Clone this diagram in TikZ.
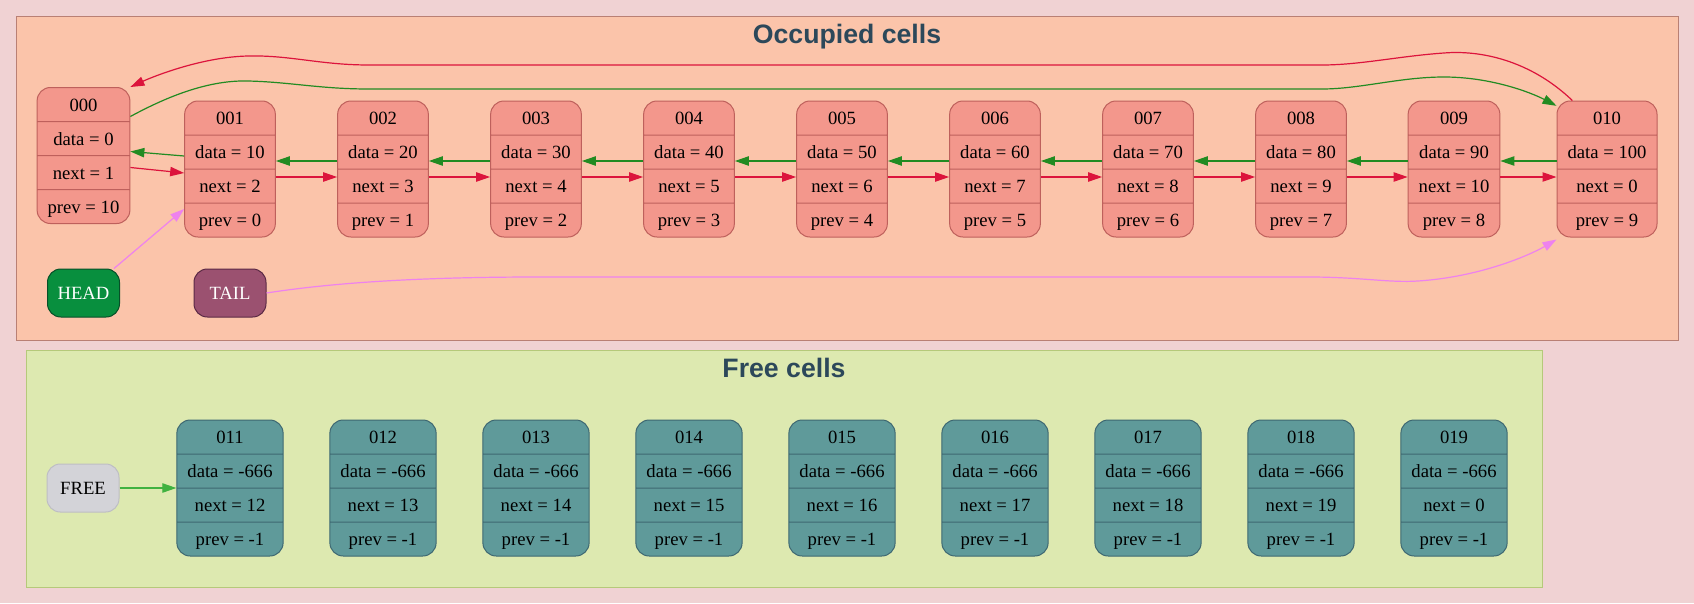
\documentclass[tikz,border=0pt]{standalone}
\usepackage{fontspec}
\setmainfont{Liberation Serif}
\newfontfamily\titlefont{Liberation Sans}
\usepackage{xcolor}
\usepackage{tikz}
\usetikzlibrary{shapes.multipart,arrows.meta,positioning}

\definecolor{bgpink}{RGB}{240,210,211}
\definecolor{occfill}{RGB}{251,196,170}
\definecolor{occline}{RGB}{185,128,116}
\definecolor{freefill}{RGB}{221,233,176}
\definecolor{freeline}{RGB}{181,201,122}
\definecolor{cellfill}{RGB}{243,151,140}
\definecolor{cellline}{RGB}{190,96,92}
\definecolor{tealfill}{RGB}{95,154,154}
\definecolor{tealline}{RGB}{62,104,114}
\definecolor{headfill}{RGB}{8,143,62}
\definecolor{headline}{RGB}{6,80,40}
\definecolor{tailfill}{RGB}{155,81,112}
\definecolor{tailline}{RGB}{92,42,69}
\definecolor{freenode}{RGB}{211,211,216}
\definecolor{freenodeline}{RGB}{190,190,196}
\definecolor{titlecol}{RGB}{44,72,90}
\definecolor{nextred}{RGB}{220,20,60}
\definecolor{prevgreen}{RGB}{34,139,34}
\definecolor{ptrviolet}{RGB}{238,130,238}
\definecolor{freegreen}{RGB}{64,178,64}

% one row of a cell: fixed height, text centred
\newcommand{\rw}{\rule[-7.4pt]{0pt}{24.75pt}}
\newcommand{\cellrows}[4]{\rw#1\nodepart{two}\rw data = #2\nodepart{three}\rw next = #3\nodepart{four}\rw prev = #4}

\begin{document}
\begin{tikzpicture}[
  x=0.75pt, y=-0.75pt,
  on grid, node distance=114.75pt,
  cluster/.style={rectangle, line width=0.75pt, inner sep=0pt},
  clustertitle/.style={font=\titlefont\bfseries\fontsize{20}{24}\selectfont, text=titlecol, anchor=base},
  cell/.style={rectangle split, rectangle split parts=4, draw=cellline, fill=cellfill, line width=0.75pt, rounded corners=10pt, inner xsep=7.9pt, inner ysep=0pt, minimum width=67.5pt, font=\fontsize{14}{16}\selectfont},
  freecell/.style={cell, draw=tealline, fill=tealfill},
  ptr/.style={rectangle, line width=0.75pt, rounded corners=10pt, minimum width=54pt, minimum height=36pt, inner sep=0pt, font=\fontsize{14}{16}\selectfont},
  arr/.style={-{Triangle[length=10.5pt,width=7pt]}, line width=0.9pt},
  nextarr/.style={arr, nextred},
  prevarr/.style={arr, prevgreen}
]
\fill[bgpink] (0,0) rectangle (1694,603);

% clusters
\node[cluster, draw=occline, fill=occfill, minimum width=1246.5pt, minimum height=243pt] (occ) at (847,178) {};
\node[clustertitle] (occtitle) at ([yshift=-21pt]occ.north) {Occupied cells};
\node[cluster, draw=freeline, fill=freefill, minimum width=1137pt, minimum height=177.75pt] (freearea) at (784,468.5) {};
\node[clustertitle] (freetitle) at ([yshift=-21pt]freearea.north) {Free cells};

% occupied cells
\node[cell] (c001) at (230,169) {\cellrows{001}{10}{2}{0}};
\node[cell, above left=10.125pt and 109.875pt of c001] (c000) {\cellrows{000}{0}{1}{10}};
\node[cell, right=of c001] (c002) {\cellrows{002}{20}{3}{1}};
\node[cell, right=of c002] (c003) {\cellrows{003}{30}{4}{2}};
\node[cell, right=of c003] (c004) {\cellrows{004}{40}{5}{3}};
\node[cell, right=of c004] (c005) {\cellrows{005}{50}{6}{4}};
\node[cell, right=of c005] (c006) {\cellrows{006}{60}{7}{5}};
\node[cell, right=of c006] (c007) {\cellrows{007}{70}{8}{6}};
\node[cell, right=of c007] (c008) {\cellrows{008}{80}{9}{7}};
\node[cell, right=of c008] (c009) {\cellrows{009}{90}{10}{8}};
\node[cell, right=of c009] (c010) {\cellrows{010}{100}{0}{9}};

\node[ptr, draw=headline, fill=headfill, text=white, below=103.125pt of c000] (head) {HEAD};
\node[ptr, draw=tailline, fill=tailfill, text=white, below=93pt of c001] (tail) {TAIL};

% free cells
\node[ptr, draw=freenodeline, fill=freenode] (free) at (83,488) {FREE};
\node[freecell, right=110.25pt of free] (c011) {\cellrows{011}{-666}{12}{-1}};
\node[freecell, right=of c011] (c012) {\cellrows{012}{-666}{13}{-1}};
\node[freecell, right=of c012] (c013) {\cellrows{013}{-666}{14}{-1}};
\node[freecell, right=of c013] (c014) {\cellrows{014}{-666}{15}{-1}};
\node[freecell, right=of c014] (c015) {\cellrows{015}{-666}{16}{-1}};
\node[freecell, right=of c015] (c016) {\cellrows{016}{-666}{17}{-1}};
\node[freecell, right=of c016] (c017) {\cellrows{017}{-666}{18}{-1}};
\node[freecell, right=of c017] (c018) {\cellrows{018}{-666}{19}{-1}};
\node[freecell, right=of c018] (c019) {\cellrows{019}{-666}{0}{-1}};

% next / prev links
\draw[nextarr] ([yshift=-9pt]c000.two split east) -- ([yshift=-3pt]c001.two split west);
\draw[prevarr] ([yshift=9.75pt]c001.two split west) -- ([yshift=3pt]c000.two split east);
\draw[nextarr] ([yshift=-6pt]c001.two split east) -- ([yshift=-6pt]c002.two split west);
\draw[prevarr] ([yshift=6pt]c002.two split west) -- ([yshift=6pt]c001.two split east);
\draw[nextarr] ([yshift=-6pt]c002.two split east) -- ([yshift=-6pt]c003.two split west);
\draw[prevarr] ([yshift=6pt]c003.two split west) -- ([yshift=6pt]c002.two split east);
\draw[nextarr] ([yshift=-6pt]c003.two split east) -- ([yshift=-6pt]c004.two split west);
\draw[prevarr] ([yshift=6pt]c004.two split west) -- ([yshift=6pt]c003.two split east);
\draw[nextarr] ([yshift=-6pt]c004.two split east) -- ([yshift=-6pt]c005.two split west);
\draw[prevarr] ([yshift=6pt]c005.two split west) -- ([yshift=6pt]c004.two split east);
\draw[nextarr] ([yshift=-6pt]c005.two split east) -- ([yshift=-6pt]c006.two split west);
\draw[prevarr] ([yshift=6pt]c006.two split west) -- ([yshift=6pt]c005.two split east);
\draw[nextarr] ([yshift=-6pt]c006.two split east) -- ([yshift=-6pt]c007.two split west);
\draw[prevarr] ([yshift=6pt]c007.two split west) -- ([yshift=6pt]c006.two split east);
\draw[nextarr] ([yshift=-6pt]c007.two split east) -- ([yshift=-6pt]c008.two split west);
\draw[prevarr] ([yshift=6pt]c008.two split west) -- ([yshift=6pt]c007.two split east);
\draw[nextarr] ([yshift=-6pt]c008.two split east) -- ([yshift=-6pt]c009.two split west);
\draw[prevarr] ([yshift=6pt]c009.two split west) -- ([yshift=6pt]c008.two split east);
\draw[nextarr] ([yshift=-6pt]c009.two split east) -- ([yshift=-6pt]c010.two split west);
\draw[prevarr] ([yshift=6pt]c010.two split west) -- ([yshift=6pt]c009.two split east);

% wrap-around links
\draw[nextarr] ([xshift=-26pt]c010.north) .. controls (1530,60) and (1480,50) .. (1444,53)
  .. controls (1400,56) and (1360,65) .. (1322,65) -- (369,65)
  .. controls (320,65) and (290,55) .. (248,56)
  .. controls (200,57) and (150,78) .. (c000.north east);
\draw[prevarr] ([yshift=3.75pt]c000.one split east) .. controls (170,95) and (210,80) .. (248,81)
  .. controls (290,82) and (320,89) .. (369,89) -- (1322,89)
  .. controls (1360,89) and (1400,77) .. (1444,77)
  .. controls (1490,77) and (1530,92) .. ([yshift=-4pt]c010.north west);

% head / tail / free pointers
\draw[arr, ptrviolet] ([xshift=-4.5pt]head.north east) -- ([yshift=-4.5pt]c001.three split west);
\draw[arr, ptrviolet] (tail.east) .. controls (350,280) and (450,277) .. (539,277) -- (1309,277)
  .. controls (1360,277) and (1390,283) .. (1418,281)
  .. controls (1480,277) and (1530,255) .. ([yshift=-1.5pt]c010.south west);
\draw[arr, freegreen] (free.east) -- (c011.two split west);
\end{tikzpicture}
\end{document}
